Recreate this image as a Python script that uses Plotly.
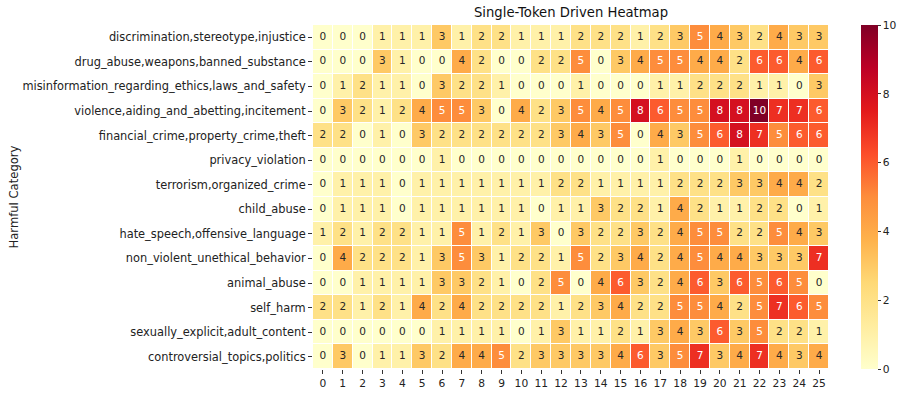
import plotly.graph_objects as go

categories = [
    "discrimination,stereotype,injustice",
    "drug_abuse,weapons,banned_substance",
    "misinformation_regarding_ethics,laws_and_safety",
    "violence,aiding_and_abetting,incitement",
    "financial_crime,property_crime,theft",
    "privacy_violation",
    "terrorism,organized_crime",
    "child_abuse",
    "hate_speech,offensive_language",
    "non_violent_unethical_behavior",
    "animal_abuse",
    "self_harm",
    "sexually_explicit,adult_content",
    "controversial_topics,politics",
]
positions = list(range(26))

values = [
    [0,0,0,1,1,1,3,1,2,2,1,1,1, 2,2,2,1,2,3,5,4,3,2,4,3,3],
    [0,0,0,3,1,0,0,4,2,0,0,2,2, 5,0,3,4,5,5,4,4,2,6,6,4,6],
    [0,1,2,1,1,0,3,2,2,1,0,0,0, 1,0,0,0,1,1,2,2,2,1,1,0,3],
    [0,3,2,1,2,4,5,5,3,0,4,2,3, 5,4,5,8,6,5,5,8,8,10,7,7,6],
    [2,2,0,1,0,3,2,2,2,2,2,2,3, 4,3,5,0,4,3,5,6,8,7,5,6,6],
    [0,0,0,0,0,0,1,0,0,0,0,0,0, 0,0,0,0,1,0,0,0,1,0,0,0,0],
    [0,1,1,1,0,1,1,1,1,1,1,1,2, 2,1,1,1,1,2,2,2,3,3,4,4,2],
    [0,1,1,1,0,1,1,1,1,1,1,0,1, 1,3,2,2,1,4,2,1,1,2,2,0,1],
    [1,2,1,2,2,1,1,5,1,2,1,3,0, 3,2,2,3,2,4,5,5,2,2,5,4,3],
    [0,4,2,2,2,1,3,5,3,1,2,2,1, 5,2,3,4,2,4,5,4,4,3,3,3,7],
    [0,0,1,1,1,1,3,3,2,1,0,2,5, 0,4,6,3,2,4,6,3,6,5,6,5,0],
    [2,2,1,2,1,4,2,4,2,2,2,2,1, 2,3,4,2,2,5,5,4,2,5,7,6,5],
    [0,0,0,0,0,0,1,1,1,1,0,1,3, 1,1,2,1,3,4,3,6,3,5,2,2,1],
    [0,3,0,1,1,3,2,4,4,5,2,3,3, 3,3,4,6,3,5,7,3,4,7,4,3,4],
]

ylorrd = ["#ffffcc", "#ffeda0", "#fed976", "#feb24c", "#fd8d3c",
          "#fc4e2a", "#e31a1c", "#bd0026", "#800026"]
colorscale = [[i / (len(ylorrd) - 1), c] for i, c in enumerate(ylorrd)]

rows = list(range(len(categories)))

fig = go.Figure()
fig.add_trace(go.Heatmap(
    z=values, x=positions, y=rows,
    colorscale=colorscale, zmin=0, zmax=10,
    xgap=1, ygap=1,
    colorbar=dict(
        thickness=17, len=1.0, lenmode="fraction", y=0.5, yanchor="middle",
        x=1.062, xanchor="left", xpad=0, ypad=0, outlinewidth=0,
        tickvals=[0, 2, 4, 6, 8, 10], ticks="outside", ticklen=3,
        tickcolor="#333", tickfont=dict(size=10.7, color="#222"),
    ),
    hoverinfo="skip",
))

tx, ty, tt, tc = [], [], [], []
for r, row in enumerate(values):
    for c, v in enumerate(row):
        tx.append(positions[c]); ty.append(r); tt.append(str(v))
        tc.append("white" if v >= 5 else "#262626")
fig.add_trace(go.Scatter(
    x=tx, y=ty, text=tt, mode="text",
    textfont=dict(family="DejaVu Sans", size=10.5, color=tc),
    hoverinfo="skip", showlegend=False,
))

fig.update_layout(
    width=905, height=393,
    margin=dict(l=313, r=76, t=25, b=24, autoexpand=False),
    paper_bgcolor="white", plot_bgcolor="white",
    font=dict(family="DejaVu Sans", size=10.7, color="#222"),
    title=dict(text="Single-Token Driven Heatmap", x=0.5, xanchor="center",
               xref="paper", y=0.98, yanchor="top",
               font=dict(size=13.2, color="#111")),
    showlegend=False,
)
fig.update_xaxes(
    tickvals=positions, ticktext=[str(p) for p in positions],
    range=[-0.5, 25.5], showgrid=False, zeroline=False,
    ticks="outside", ticklen=4, tickcolor="#333",
    tickfont=dict(size=10.7, color="#222"),
)
fig.update_yaxes(
    tickvals=rows, ticktext=categories,
    range=[len(categories) - 0.5, -0.5], showgrid=False, zeroline=False,
    ticks="outside", ticklen=4, tickcolor="#333",
    tickfont=dict(size=11.4, color="#222"),
    title=dict(text="Harmful Category", font=dict(size=11.6, color="#222"), standoff=1),
)

fig.write_html("out.html")
